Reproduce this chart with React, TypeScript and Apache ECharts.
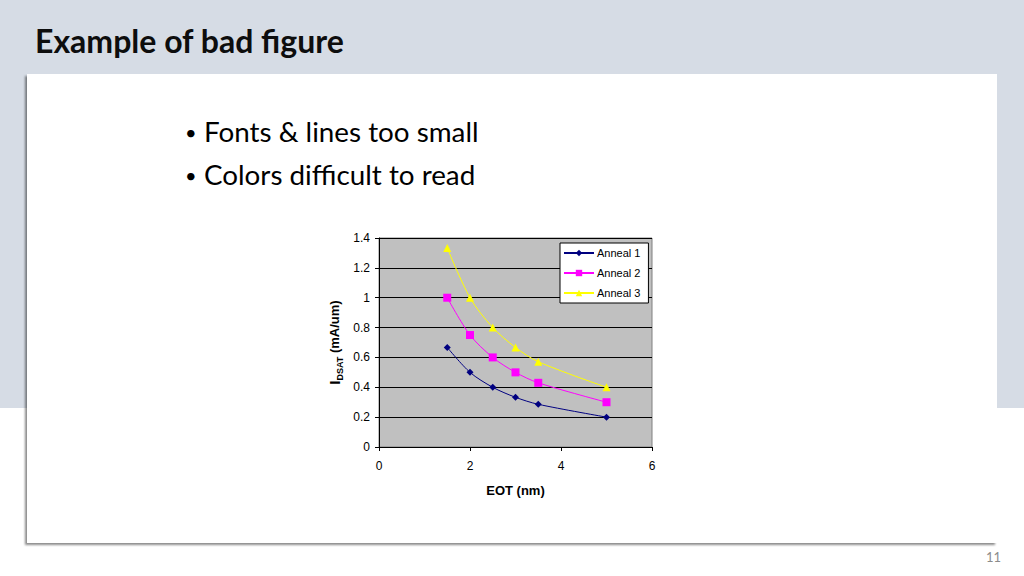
import React, { useEffect, useRef } from 'react';
import * as echarts from 'echarts';

const eot = [1.5, 2, 2.5, 3, 3.5, 5];
const anneal1 = [0.667, 0.5, 0.4, 0.333, 0.286, 0.2];
const anneal2 = [1.0, 0.75, 0.6, 0.5, 0.43, 0.3];
const anneal3 = [1.333, 1.0, 0.8, 0.667, 0.571, 0.4];
const seriesNames = ['Anneal 1', 'Anneal 2', 'Anneal 3'];
const bullets = ['Fonts & lines too small', 'Colors difficult to read'];

const pairs = (ys: number[]) => eot.map((x, i) => [x, ys[i]]);

const App: React.FC = () => {
  const chartRef = useRef<HTMLDivElement>(null);

  useEffect(() => {
    document.body.style.margin = '0';
    if (!chartRef.current) return;
    const chart = echarts.init(chartRef.current, undefined, { renderer: 'svg' });

    const axisText = { color: '#000', fontFamily: 'Liberation Sans', fontSize: 12 };

    chart.setOption({
      animation: false,
      backgroundColor: '#ffffff',
      graphic: [
        { type: 'rect', z: -20, shape: { x: 0, y: 0, width: 1024, height: 408 }, style: { fill: '#d6dce5' } },
        {
          type: 'rect',
          z: -19,
          shape: { x: 27, y: 74, width: 970, height: 469 },
          style: {
            fill: '#ffffff',
            shadowBlur: 2,
            shadowOffsetX: -2,
            shadowOffsetY: 2,
            shadowColor: 'rgba(0,0,0,0.45)',
          },
        },
        {
          type: 'text',
          z: -18,
          x: 35,
          y: 40,
          style: {
            text: 'Example of bad figure',
            fontFamily: 'Lato',
            fontWeight: 'bold',
            fontSize: 32,
            fill: '#0d0d0d',
            verticalAlign: 'middle',
          },
        },
        ...bullets.flatMap((b, i) => [
          {
            type: 'text',
            z: -18,
            x: 185,
            y: 132 + i * 43,
            style: { text: '•', fontFamily: 'Lato', fontSize: 20, fill: '#000', verticalAlign: 'middle' },
          },
          {
            type: 'text',
            z: -18,
            x: 204,
            y: 131 + i * 43,
            style: { text: b, fontFamily: 'Lato', fontSize: 27.8, fill: '#000', verticalAlign: 'middle' },
          },
        ]),
        {
          type: 'text',
          z: -18,
          x: 1001,
          y: 557,
          style: {
            text: '11',
            fontFamily: 'Lato',
            fontSize: 13,
            fill: '#8c8c8c',
            align: 'right',
            verticalAlign: 'middle',
          },
        },
      ],
      grid: {
        left: 379,
        top: 238,
        width: 273,
        height: 209,
        show: true,
        backgroundColor: '#c0c0c0',
        borderColor: '#808080',
        borderWidth: 1,
      },
      legend: {
        left: 560,
        top: 243,
        orient: 'vertical',
        backgroundColor: '#ffffff',
        borderColor: '#000',
        borderWidth: 1,
        borderRadius: 0,
        padding: [4, 8, 4, 3],
        itemWidth: 30,
        itemHeight: 8,
        itemGap: 8,
        textStyle: { ...axisText, fontSize: 11, lineHeight: 12, padding: [0, 0, 0, -2] },
        data: seriesNames,
      },
      xAxis: {
        type: 'value',
        min: 0,
        max: 6,
        interval: 2,
        name: 'EOT (nm)',
        nameLocation: 'middle',
        nameGap: 37,
        nameTextStyle: { ...axisText, fontWeight: 'bold', fontSize: 13 },
        axisLine: { show: true, onZero: false, lineStyle: { color: '#000', width: 1 } },
        axisTick: { show: true, inside: false, length: 4, lineStyle: { color: '#000' } },
        axisLabel: { ...axisText, margin: 13 },
        splitLine: { show: false },
      },
      yAxis: {
        type: 'value',
        min: 0,
        max: 1.4,
        interval: 0.2,
        name: '{i|I}{s|DSAT}{t| (mA/um)}',
        nameLocation: 'middle',
        nameGap: 35,
        nameRotate: 90,
        nameTextStyle: {
          ...axisText,
          fontWeight: 'bold',
          rich: {
            i: { fontFamily: 'Liberation Sans', fontWeight: 'bold', fontSize: 15, color: '#000', lineHeight: 20, verticalAlign: 'middle' },
            s: { fontFamily: 'Liberation Sans', fontWeight: 'bold', fontSize: 9, color: '#000', lineHeight: 9, verticalAlign: 'bottom' },
            t: { fontFamily: 'Liberation Sans', fontWeight: 'bold', fontSize: 13, color: '#000', lineHeight: 20, verticalAlign: 'middle' },
          },
        },
        axisLine: { show: true, lineStyle: { color: '#000', width: 1 } },
        axisTick: { show: true, inside: false, length: 4, lineStyle: { color: '#000' } },
        axisLabel: { ...axisText, margin: 9, formatter: (v: number) => String(Math.round(v * 10) / 10) },
        splitLine: { show: true, lineStyle: { color: '#000', width: 1 } },
      },
      series: [
        {
          name: seriesNames[0],
          type: 'line',
          data: pairs(anneal1),
          smooth: 0.3,
          symbol: 'diamond',
          symbolSize: 7,
          lineStyle: { color: '#000080', width: 1 },
          itemStyle: { color: '#000080' },
        },
        {
          name: seriesNames[1],
          type: 'line',
          data: pairs(anneal2),
          smooth: 0.3,
          symbol: 'rect',
          symbolSize: 8,
          lineStyle: { color: '#ff00ff', width: 1 },
          itemStyle: { color: '#ff00ff' },
        },
        {
          name: seriesNames[2],
          type: 'line',
          data: pairs(anneal3),
          smooth: 0.3,
          symbol: 'triangle',
          symbolSize: 8,
          lineStyle: { color: '#ffff00', width: 1 },
          itemStyle: { color: '#ffff00' },
        },
      ],
    });

    return () => {
      chart.dispose();
    };
  }, []);

  return <div ref={chartRef} style={{ width: '1024px', height: '576px' }} />;
};

export default App;
